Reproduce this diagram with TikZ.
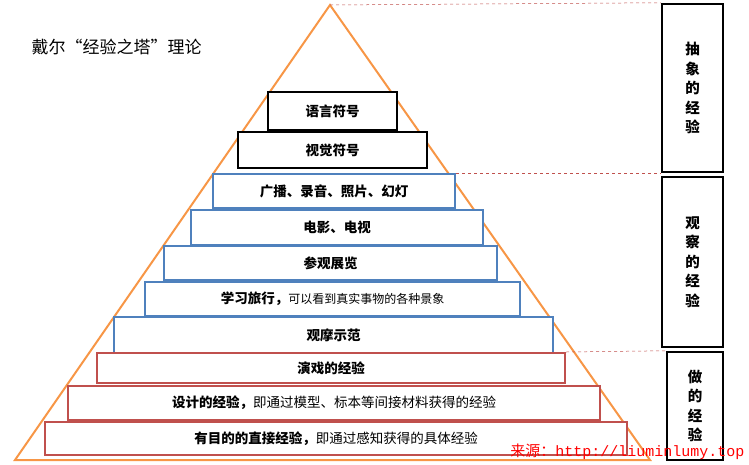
\documentclass[tikz,border=0pt]{standalone}
\usepackage{fontspec}
\setmainfont{Noto Sans CJK SC}
\setmonofont{Liberation Mono}
\definecolor{tri}{RGB}{247,150,70}
\definecolor{bl}{RGB}{79,129,189}
\definecolor{rd}{RGB}{192,80,77}
\tikzset{
 lvl/.style={draw,line width=2pt,fill=white,font=\bfseries\fontsize{13.5}{15}\selectfont,inner sep=0pt},
 side/.style={draw=black,line width=2.5pt,fill=white,font=\bfseries\fontsize{14.5}{19.5}\selectfont,align=center,inner sep=0pt},
 guide/.style={rd,dashed,line width=0.5pt}}
\newcommand\bx[7]{\node[lvl,draw=#6,minimum width=#2pt-#1pt,minimum height=#4pt-#3pt] (#7) at ({(#1+#2)/2},{(#3+#4)/2}) {#5};}
\begin{document}
\begin{tikzpicture}[x=1pt,y=-1pt]
\useasboundingbox (0,0) rectangle (749,464);
\coordinate (apex) at (330,5);
\coordinate (bl) at (15,460);
\coordinate (br) at (650,460);
\draw[tri,line width=2pt] (bl) -- (apex) -- (br) -- cycle;
\bx{268}{397}{92}{130}{语言符号}{black}{b1}
\bx{238}{427}{132}{168}{视觉符号}{black}{b2}
\bx{213}{455}{174}{208}{广播、录音、照片、幻灯}{bl}{b3}
\bx{191}{483}{210}{245}{电影、电视}{bl}{b4}
\bx{164}{497}{246}{280}{参观展览}{bl}{b5}
\bx{145}{520}{282}{316}{学习旅行，\mdseries\fontsize{12}{14}\selectfont 可以看到真实事物的各种景象}{bl}{b6}
\bx{114}{553}{317}{353}{观摩示范}{bl}{b7}
\bx{97}{565}{353}{383}{演戏的经验}{rd}{b8}
\bx{68}{600}{386}{420}{设计的经验，\mdseries 即通过模型、标本等间接材料获得的经验}{rd}{b9}
\bx{45}{627}{422}{455}{有目的的直接经验，\mdseries 即通过感知获得的具体经验}{rd}{b10}
\node[side,minimum width=61pt,minimum height=168pt] (s1) at (692.5,88) {抽\\象\\的\\经\\验};
\node[side,minimum width=61pt,minimum height=170pt] (s2) at (692.5,262) {观\\察\\的\\经\\验};
\node[side,minimum width=56pt,minimum height=108pt] (s3) at (695,406) {做\\的\\经\\验};
\draw[guide] (apex) -- (s1.north west);
\draw[guide] (b3.north east) -- (s2.north west |- b3.north east);
\draw[guide] (b8.north east) -- (s3.north west);
\node[anchor=west,font=\fontsize{17}{19}\selectfont] (title) at (28,47) {戴尔“经验之塔”理论};
\node[anchor=east,text=red,font=\fontsize{15}{17}\selectfont] (src) at (748,452) {来源：\texttt{http://liuminlumy.top}};
\end{tikzpicture}
\end{document}
